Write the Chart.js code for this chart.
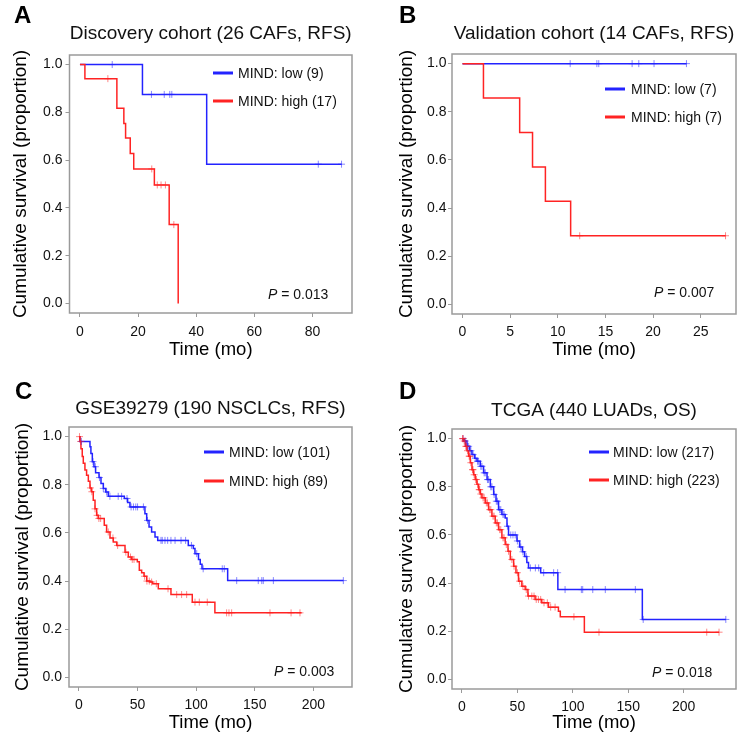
<!DOCTYPE html>
<html>
<head>
<meta charset="utf-8">
<script src="https://cdn.jsdelivr.net/npm/chart.js@4/dist/chart.umd.min.js"></script>
<style>
  body { margin: 0; background: #fff; }
  #wrap { position: relative; width: 744px; height: 741px; }
  canvas { position: absolute; }
</style>
</head>
<body>
<div id="wrap">
  <canvas id="cA" width="372" height="370" style="left:0;top:0"></canvas>
  <canvas id="cB" width="372" height="370" style="left:372px;top:0"></canvas>
  <canvas id="cC" width="372" height="371" style="left:0;top:370px"></canvas>
  <canvas id="cD" width="372" height="371" style="left:372px;top:370px"></canvas>
</div>
<script>
// ---- data (time in months, survival proportion) ----

// A: discovery cohort
const aTitle = 'Discovery cohort (26 CAFs, RFS)';
const aLowLabel = 'MIND: low (9)';
const aLowT = [0, 21.5, 43.6, 90];
const aLowS = [1, 0.875, 0.583, 0.583];
const aLowCens = [11.1, 24.6, 29, 30.9, 31.6, 82, 90];
const aHighLabel = 'MIND: high (17)';
const aHighT = [0, 1.7, 12.7, 15.1, 15.7, 17.3, 18.5, 25.6, 30.7, 33.8];
const aHighS = [1, 0.941, 0.817, 0.753, 0.693, 0.628, 0.563, 0.496, 0.330, 0];
const aHighCens = [9.6, 24.7, 26.6, 27.9, 29.4, 32.3];
const aP = '0.013';
const aXTicks = [0, 20, 40, 60, 80];

// B: validation cohort
const bTitle = 'Validation cohort (14 CAFs, RFS)';
const bLowLabel = 'MIND: low (7)';
const bLowT = [0, 23.5];
const bLowS = [1, 1];
const bLowCens = [11.3, 14.1, 14.3, 17.8, 18.5, 20.1, 23.5];
const bHighLabel = 'MIND: high (7)';
const bHighT = [0, 2.2, 6.0, 7.35, 8.7, 11.35, 27.6];
const bHighS = [1, 0.857, 0.714, 0.571, 0.428, 0.285, 0.285];
const bHighCens = [12.3, 27.6];
const bP = '0.007';
const bXTicks = [0, 5, 10, 15, 20, 25];

// C: GSE39279
const cTitle = 'GSE39279 (190 NSCLCs, RFS)';
const cLowLabel = 'MIND: low (101)';
const cLowT = [0, 0.85, 9.4, 10.2, 11.4, 12.8, 14.2, 17.1, 18.8, 20.8, 22.8, 25, 38.7, 41.5, 43.5,
  56.3, 57.8, 59.8, 62, 64.9, 67.2, 93.3, 97.6, 99, 102, 103.5, 105, 126.9, 225.6];
const cLowS = [1, 0.98, 0.958, 0.93, 0.896, 0.875, 0.85, 0.83, 0.805, 0.785, 0.77, 0.752, 0.743, 0.726, 0.708,
  0.68, 0.652, 0.625, 0.604, 0.583, 0.569, 0.548, 0.535, 0.514, 0.49, 0.47, 0.451, 0.402, 0.402];
const cLowCens = [2, 12, 14, 17.5, 20.8, 23.6, 26.4, 33.5, 36.4, 41, 44.5, 46.5, 48.5, 50, 55, 58.5,
  70, 71.1, 73.4, 75.7, 78.5, 82, 87.1, 91, 96, 100.5, 106, 122.3, 124, 134.6, 153, 156, 157.3, 165.9, 225.6];
const cHighLabel = 'MIND: high (89)';
const cHighT = [0, 0.85, 1.7, 2.8, 3.7, 5.1, 6.5, 8, 9.4, 10.8, 12.2, 13.7, 15.1, 16.5, 21.6, 23.6, 26.5,
  29.3, 32.2, 39.3, 42.1, 45, 49.8, 51.5, 53.5, 55.5, 57.8, 60.6, 62.9, 67.7, 78.5, 96.7, 116, 190];
const cHighS = [1, 0.98, 0.95, 0.917, 0.889, 0.861, 0.84, 0.815, 0.787, 0.771, 0.736, 0.70, 0.673, 0.66, 0.632,
  0.604, 0.579, 0.562, 0.548, 0.52, 0.50, 0.49, 0.48, 0.445, 0.435, 0.42, 0.40, 0.396, 0.389, 0.368, 0.344,
  0.3125, 0.268, 0.268];
const cHighCens = [0.5, 1.5, 9.8, 11, 13.7, 15.5, 17, 18.5, 25, 29, 33, 40, 44, 45.5, 47, 56, 58, 60, 62, 66,
  76, 83.4, 87.6, 91.9, 99, 102.7, 109.5, 126, 128, 130.3, 163, 181, 188.6];
const cP = '0.003';
const cXTicks = [0, 50, 100, 150, 200];

// D: TCGA
const dTitle = 'TCGA (440 LUADs, OS)';
const dLowLabel = 'MIND: low (217)';
const dLowT = [0, 2, 4.5, 7, 9, 11.5, 13.5, 16.5, 19.5, 22.6, 25.6, 28.6, 30.7, 33, 36, 39, 40.6, 42,
  49.6, 52, 54.5, 56.5, 58.5, 60, 71, 86.5, 162.7, 238];
const dLowS = [1, 0.99, 0.968, 0.95, 0.934, 0.918, 0.906, 0.885, 0.858, 0.83, 0.80, 0.768, 0.74, 0.705,
  0.685, 0.67, 0.636, 0.60, 0.575, 0.55, 0.53, 0.51, 0.485, 0.463, 0.443, 0.373, 0.249, 0.249];
const dLowCens = [1, 3, 5, 6, 8, 10, 12, 14, 15, 17, 18, 20, 21, 23, 24, 26, 27, 29, 31, 32, 34, 35, 37, 38,
  41, 44, 46, 48, 50, 53, 55, 58, 61.7, 66.2, 69.2, 73.7, 82.7, 86.3, 93, 107.7, 108.9, 118, 129.3, 156.4,
  163.5, 238];
const dHighLabel = 'MIND: high (223)';
const dHighT = [0, 1.5, 3, 4.5, 6, 7.5, 9, 10.5, 12, 13.5, 15, 16.5, 18, 21, 24, 27, 30, 33, 36, 39, 41.5,
  43.6, 46.6, 48.7, 51, 54, 57, 59.5, 66, 72, 78, 87, 88.7, 110.4, 231.9];
const dHighS = [1, 0.99, 0.968, 0.95, 0.927, 0.9, 0.871, 0.85, 0.83, 0.81, 0.788, 0.77, 0.754, 0.733, 0.705,
  0.678, 0.65, 0.622, 0.588, 0.56, 0.532, 0.498, 0.47, 0.443, 0.408, 0.387, 0.373, 0.346, 0.332, 0.318,
  0.30, 0.283, 0.26, 0.196, 0.196];
const dHighCens = [0.5, 1, 2, 3.5, 4, 5, 6.5, 7, 8, 9.5, 10, 11, 12.5, 13, 14, 15.5, 16, 17, 19, 20, 22, 23,
  25, 26, 28, 29, 31, 32, 34, 35, 37, 38, 40, 42, 45, 47, 50, 52, 55, 58, 60, 63, 65, 67, 69, 71, 74, 77,
  80, 84, 101, 123.6, 220.8, 231.9];
const dP = '0.018';
const dXTicks = [0, 50, 100, 150, 200];

const yTicks = [0, 0.2, 0.4, 0.6, 0.8, 1.0];

// ---- styling ----
const FONT = '"Liberation Sans", Arial, Helvetica, sans-serif';
const BLUE = 'rgb(35,35,255)';
const RED = 'rgb(255,35,35)';
const BLUE_SOFT = 'rgba(35,35,255,0.55)';
const RED_SOFT = 'rgba(255,35,35,0.55)';
const GREY = '#9a9a9a';

// survival value of the step curve at time t
function stepAt(T, S, t) {
  let s = S[0];
  for (let i = 0; i < T.length; i++) {
    if (T[i] <= t) s = S[i];
  }
  return s;
}

function curve(label, T, S, color) {
  return {
    label: label,
    data: T.map((t, i) => ({ x: t, y: S[i] })),
    showLine: true,
    stepped: 'before',
    borderColor: color,
    borderWidth: 1.5,
    pointRadius: 0,
    fill: false
  };
}

function censors(T, S, cens, color) {
  return {
    label: 'censored',
    data: cens.map(t => ({ x: t, y: stepAt(T, S, t) })),
    showLine: false,
    pointStyle: 'cross',
    pointRadius: 3.5,
    borderWidth: 1,
    borderColor: color,
    backgroundColor: color
  };
}

// box, panel letter, title, legend and P value
const panelText = {
  id: 'panelText',
  beforeDatasetsDraw(chart, args, o) {
    const { ctx, chartArea: ca } = chart;
    ctx.save();
    ctx.strokeStyle = GREY;
    ctx.lineWidth = 1.5;
    ctx.strokeRect(ca.left, ca.top, ca.right - ca.left, ca.bottom - ca.top);
    ctx.restore();
  },
  afterDraw(chart, args, o) {
    const { ctx, chartArea: ca } = chart;
    ctx.save();
    ctx.fillStyle = '#000';
    ctx.textBaseline = 'alphabetic';
    ctx.textAlign = 'left';
    ctx.font = 'bold 24px ' + FONT;
    ctx.fillText(o.letter, o.letterX, o.letterY);

    ctx.font = '19px ' + FONT;
    ctx.textAlign = 'center';
    ctx.fillStyle = '#111';
    ctx.fillText(o.title, (ca.left + ca.right) / 2, o.titleY);

    // legend
    ctx.textAlign = 'left';
    ctx.textBaseline = 'middle';
    ctx.font = '14px ' + FONT;
    o.legend.forEach((item, i) => {
      const y = o.legY[i];
      ctx.strokeStyle = item.color;
      ctx.lineWidth = 3;
      ctx.beginPath();
      ctx.moveTo(o.legX1, y);
      ctx.lineTo(o.legX2, y);
      ctx.stroke();
      ctx.fillStyle = '#111';
      ctx.fillText(item.label, o.legText, y + 1);
    });

    // P value
    ctx.font = 'italic 14px ' + FONT;
    ctx.fillText('P', o.pX, o.pY);
    const w = ctx.measureText('P').width;
    ctx.font = '14px ' + FONT;
    ctx.fillText(' = ' + o.p, o.pX + w, o.pY);
    ctx.restore();
  }
};

function makePanel(id, p) {
  const canvas = document.getElementById(id);
  const H = canvas.height, W = canvas.width;
  return new Chart(canvas, {
    type: 'scatter',
    data: {
      datasets: [
        censors(p.highT, p.highS, p.highCens, RED_SOFT),
        censors(p.lowT, p.lowS, p.lowCens, BLUE_SOFT),
        curve(p.highLabel, p.highT, p.highS, RED),
        curve(p.lowLabel, p.lowT, p.lowS, BLUE)
      ]
    },
    options: {
      responsive: false,
      animation: false,
      devicePixelRatio: 1,
      layout: { padding: { left: 0, top: p.area.top, right: W - p.area.right, bottom: 0 } },
      plugins: {
        legend: { display: false },
        tooltip: { enabled: false },
        panelText: {
          letter: p.letter, letterX: p.letterX, letterY: p.letterY,
          title: p.title, titleY: p.titleY,
          legend: [{ label: p.lowLabel, color: BLUE }, { label: p.highLabel, color: RED }],
          legX1: p.legX1, legX2: p.legX2, legText: p.legText, legY: p.legY,
          p: p.p, pX: p.pX, pY: p.pY
        }
      },
      scales: {
        x: {
          type: 'linear',
          min: p.xMin,
          max: p.xMax,
          afterBuildTicks: s => { s.ticks = p.xTicks.map(v => ({ value: v })); },
          afterFit: s => { s.height = H - p.area.bottom; },
          grid: { drawOnChartArea: false, drawTicks: true, tickLength: 4, color: GREY, lineWidth: 1 },
          border: { display: false },
          ticks: { font: { family: FONT, size: 14 }, color: '#111', padding: p.xPad, maxRotation: 0, autoSkip: false },
          title: {
            display: true, text: 'Time (mo)', color: '#000',
            font: { family: FONT, size: 18.5, lineHeight: 1 },
            padding: { top: 0, bottom: p.xTitleBottom }
          }
        },
        y: {
          type: 'linear',
          min: -0.04,
          max: 1.04,
          afterBuildTicks: s => { s.ticks = yTicks.map(v => ({ value: v })); },
          afterFit: s => { s.width = p.area.left; },
          grid: { drawOnChartArea: false, drawTicks: true, tickLength: 4, color: GREY, lineWidth: 1 },
          border: { display: false },
          ticks: {
            font: { family: FONT, size: 14 }, color: '#111', padding: p.yPad,
            callback: v => Number(v).toFixed(1)
          },
          title: {
            display: true, text: 'Cumulative survival (proportion)', color: '#000',
            font: { family: FONT, size: 19, lineHeight: 1 },
            padding: { top: p.yTitleTop, bottom: 0 }
          }
        }
      }
    },
    plugins: [panelText]
  });
}

makePanel('cA', {
  letter: 'A', letterX: 14, letterY: 23, title: aTitle, titleY: 39,
  lowLabel: aLowLabel, lowT: aLowT, lowS: aLowS, lowCens: aLowCens,
  highLabel: aHighLabel, highT: aHighT, highS: aHighS, highCens: aHighCens,
  xMin: -3.6, xMax: 93.6, xTicks: aXTicks,
  area: { left: 69.5, top: 55, right: 352, bottom: 313 },
  xPad: 7, yPad: 3, xTitleBottom: 10.7, yTitleTop: 11.3,
  legX1: 213, legX2: 233, legText: 238, legY: [73, 101],
  p: aP, pX: 268, pY: 295
});

makePanel('cB', {
  letter: 'B', letterX: 27, letterY: 23, title: bTitle, titleY: 39,
  lowLabel: bLowLabel, lowT: bLowT, lowS: bLowS, lowCens: bLowCens,
  highLabel: bHighLabel, highT: bHighT, highS: bHighS, highCens: bHighCens,
  xMin: -1.1, xMax: 28.7, xTicks: bXTicks,
  area: { left: 80, top: 54, right: 364, bottom: 314 },
  xPad: 6, yPad: 1.5, xTitleBottom: 10.7, yTitleTop: 25.5,
  legX1: 233, legX2: 253, legText: 259, legY: [89, 117],
  p: bP, pX: 282, pY: 293
});

makePanel('cC', {
  letter: 'C', letterX: 15, letterY: 29, title: cTitle, titleY: 44,
  lowLabel: cLowLabel, lowT: cLowT, lowS: cLowS, lowCens: cLowCens,
  highLabel: cHighLabel, highT: cHighT, highS: cHighS, highCens: cHighCens,
  xMin: -8.5, xMax: 233, xTicks: cXTicks,
  area: { left: 69, top: 57, right: 352, bottom: 317 },
  xPad: 5.6, yPad: 3, xTitleBottom: 8.4, yTitleTop: 13.3,
  legX1: 204, legX2: 224, legText: 229, legY: [82, 111],
  p: cP, pX: 274, pY: 302
});

makePanel('cD', {
  letter: 'D', letterX: 27, letterY: 29, title: dTitle, titleY: 46,
  lowLabel: dLowLabel, lowT: dLowT, lowS: dLowS, lowCens: dLowCens,
  highLabel: dHighLabel, highT: dHighT, highS: dHighS, highCens: dHighCens,
  xMin: -9.0, xMax: 247.2, xTicks: dXTicks,
  area: { left: 80, top: 59, right: 364, bottom: 319 },
  xPad: 5.6, yPad: 1.5, xTitleBottom: 8.4, yTitleTop: 25.2,
  legX1: 217, legX2: 237, legText: 241, legY: [82, 110],
  p: dP, pX: 280, pY: 303
});
</script>
</body>
</html>
